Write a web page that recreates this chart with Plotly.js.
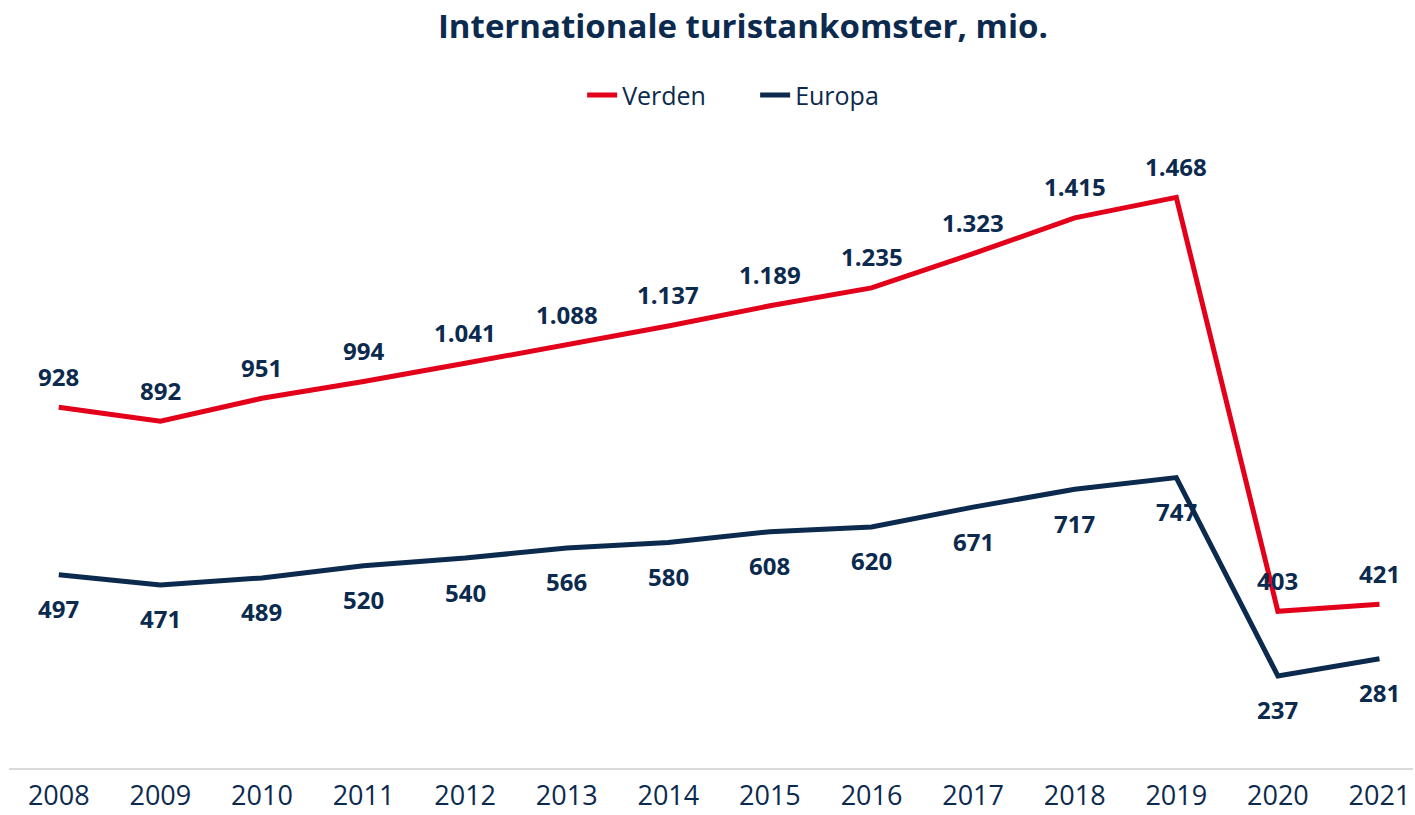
<!DOCTYPE html>
<html>
<head>
<meta charset="utf-8">
<script src="https://cdn.plot.ly/plotly-3.0.1.min.js"></script>
<style>html,body{margin:0;padding:0;background:#fff;}#chart{width:1415px;height:815px;}</style>
</head>
<body>
<div id="chart"></div>
<script>
const years = ['2008','2009','2010','2011','2012','2013','2014','2015','2016','2017','2018','2019','2020','2021'];
const verden = [928, 892, 951, 994, 1041, 1088, 1137, 1189, 1235, 1323, 1415, 1468, 403, 421];
const europa = [497, 471, 489, 520, 540, 566, 580, 608, 620, 671, 717, 747, 237, 281];

const RED = '#E3001B';
const NAVY = '#0B2A4E';
const FONT = '"Open Sans", sans-serif';

function fmt(v){
  return v >= 1000 ? Math.floor(v/1000) + '.' + String(v % 1000).padStart(3,'0') : String(v);
}

const traces = [
  {x: years, y: verden, name: 'Verden', type: 'scatter', mode: 'lines',
   line: {color: RED, width: 5}, hoverinfo: 'skip'},
  {x: years, y: europa, name: 'Europa', type: 'scatter', mode: 'lines',
   line: {color: NAVY, width: 5}, hoverinfo: 'skip'}
];

const annotations = [];
years.forEach((yr, i) => {
  annotations.push({x: i, y: verden[i], xref: 'x', yref: 'y', text: '<b>' + fmt(verden[i]) + '</b>', showarrow: false,
    yshift: 31, font: {family: FONT, size: 24, color: NAVY}});
  annotations.push({x: i, y: europa[i], xref: 'x', yref: 'y', text: '<b>' + fmt(europa[i]) + '</b>', showarrow: false,
    yshift: -34, font: {family: FONT, size: 24, color: NAVY}});
});

const layout = {
  width: 1415, height: 815,
  margin: {l: 9, r: 2, t: 146, b: 47},
  paper_bgcolor: '#fff', plot_bgcolor: '#fff',
  title: {text: '<b>Internationale turistankomster, mio.</b>', x: 0.525, xanchor: 'center',
    y: 0.967, yanchor: 'middle', font: {family: FONT, size: 33, color: NAVY}},
  showlegend: true,
  legend: {orientation: 'h', x: 0.4114, xanchor: 'left', xref: 'container',
    y: 0.883, yanchor: 'middle', yref: 'container', entrywidth: 128, entrywidthmode: 'pixels',
    font: {family: FONT, size: 25, color: NAVY}},
  xaxis: {type: 'category', range: [-0.49, 13.33], showgrid: false, zeroline: false,
    showline: true, linecolor: '#D9D9D9', linewidth: 2, ticks: '',
    tickfont: {family: FONT, size: 27, color: NAVY}, ticklabelstandoff: 3, fixedrange: true},
  yaxis: {range: [0, 1600], showgrid: false, zeroline: false, showline: false,
    showticklabels: false, ticks: '', fixedrange: true},
  annotations: annotations
};

Plotly.newPlot('chart', traces, layout, {displayModeBar: false, staticPlot: true});
</script>
</body>
</html>
